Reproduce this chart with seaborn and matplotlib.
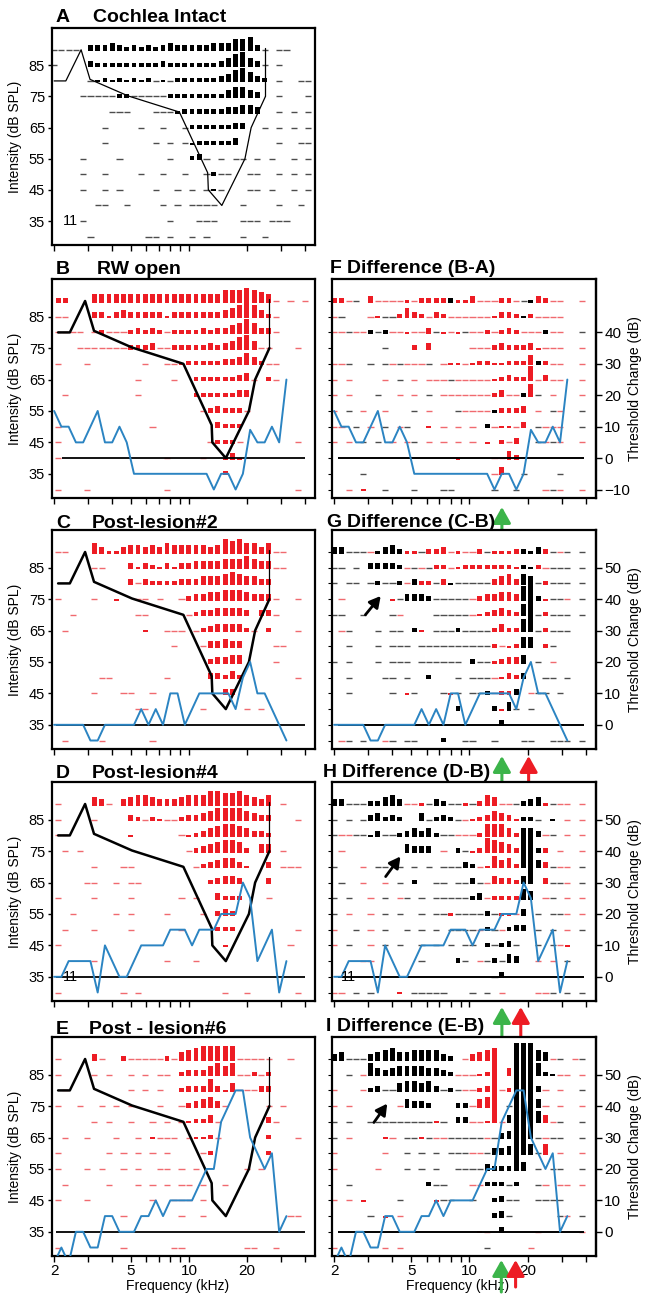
import numpy as np
import pandas as pd
import matplotlib
matplotlib.use("Agg")
import matplotlib.pyplot as plt
import seaborn as sns
from matplotlib.ticker import FixedLocator, FuncFormatter, NullLocator

sns.set_theme(style="white")
plt.rcParams["font.family"] = ["Liberation Sans", "DejaVu Sans"]
plt.rcParams["text.color"] = "black"
plt.rcParams["axes.labelcolor"] = "black"
plt.rcParams["xtick.color"] = "black"
plt.rcParams["ytick.color"] = "black"

# ---------------- data ----------------
LEVELS = [90, 85, 80, 75, 70, 65, 60, 55, 50, 45, 40, 35, 30]   # dB SPL rows
# raster codes per column (1/8-octave steps from 2 kHz):
# digits = black bar height, a-i = red bar height, '-' black zero, '_' red zero
RASTER_A = [
    "---- 333432323234333334446673- --",
    "-    322222222232222222346743- - ",
    "     -12121212-1-2222223467532 -  --",
    "    -----22-----2222222245543  -   -",
    "        ---   ---122222233443  - - -",
    "       -    -  -  -22222233  - - - -",
    "       -      - - -1222223     -  --",
    "    -    -      -  23- - -- - -  - -",
    "    -  -    -  -  -  -2--  --  - - -",
    "    -  - -    -  - - -1-   -- -  - -",
    "      --  -    - - ----   -    -  -",
    "    -           -   ---   --- ---",
    "     -       -- -  - -    -  -",
]
RASTER_B = [
    "bb   ddddddddddddddddddfffgfed_ _ _",
    "__   ccacdcccccacccccccdefgfdb_",
    "____ _b___bcbcb_bbbbcbccdegecc_",
    "   _______bbbc__bbbbbcbcdfgd__   _",
    "_   _       _  __abbbbbccdfdb__",
    "           _    _  bbbbbbcd_ b_",
    " _         _       bbbbbbcc",
    "                    _bcbbb_",
    "_            _        cbbb",
    "_                    _bbb_       _",
    "_              _    _  aca",
    "                       b",
    "_   _          _                 _",
]
RASTER_C = [
    "__   ecaacddcdcedddddcdgfgeece__",
    "     __   cacbacaccddddeeefedd__",
    "          c_cbbbbcccdddefeddcc",
    "_    _  a  __ _  _bccddeeedccc_  _",
    "  _        __     _bccddddc cc_",
    " _          a  ___ _bcddddb_ b   _",
    "                _   _ccdcc    __",
    "                     bccdd    _",
    "      __       _     ccbdb       _",
    "     _   __  _         cc",
    "           __       _     _ _",
    "",
    " _    _      _",
]
RASTER_D = [
    "_    dc_ cdeedcccdeeeggffgedce _",
    "_    _    cb_ba__bccdeffffedcc   _",
    "__        a      _abcdeffedccb",
    " _ _              _bcdeffeb dd _",
    "     _   __        _bcdeeca  c ___",
    "    __  _ __         bcddc   c",
    "_    _    _      _ _  cbbb   _",
    "  _     _ _    _    _ bcb",
    " _   _    _      _    bbb        _",
    "_                      a        _",
    "     _         _   _",
    "",
    "_        _ _           _  _      _",
]
RASTER_E = [
    "_    c_  b_____b_defggggg_____  _",
    "_    _ _  _ _ __ bcccefef__b_b",
    " _        _ _ _  bcccfcad___cc",
    "_  _  _ _ _   _  _bcdec_     _ _",
    "     _ _  _  _ _ _abbd_      c_",
    " _  _   _  _ a___ _aab_      b   _",
    "_      _ _ _ _ _    _b       b",
    "_   _ _  _ _  __ _ _      _ _",
    " _     _   _ _ _ __ _  _",
    "_   _        _  ___ _",
    "         _       _  _           __",
    "",
    "_        _      __        __  _",
]
RASTER_F = [
    "bb_- c____a_bbbb2aac___bb_-1cb__  _",
    "_-   _a--becb_cb______accb1b____",
    "__-__2-2__a__c-a_a-__b_bcb___2__  -",
    "       -   b c     ___bcbbbca___  _",
    "__-  - -_-___- _aa_abbaabbbe2b__  _",
    "_ _    _ - _ ___-_____abcbbg_c__  _",
    "_ _   -  _ _ - _______bc__2f- _   _",
    "_ - _  _   - _   -____1bbbc _ -_  -",
    "__ - _ - _-  a _ _ _ 2_aa_c -___  -",
    "_ _ - - _ _- _ _ _ _ a b_c  -_-_  _",
    "                 a    __db",
    "    -                 _d  -    -",
    "  _ a  -   -   --     -  -   _-_  _",
]
RASTER_G = [
    "33---_1342aa-bbc_a__b-aaab213b-_- -",
    "-- - 33332_-_-bb_abbbbbbba21b_--- -",
    "- -- -2--2_3bb-c1-----cdec54-b--- -",
    " _      a-3332-----_bccddc792a--_ -",
    "--  -   -_    -----_abcdcb69-b--- -",
    " _-   - -- 2a ---2----bdbb69-b---",
    "  -   - --- ----------b_ab55 b-",
    "- -   - --- ------ 2--abcc4 - _",
    "  -    -- -  2   - ---_acb3  -- -",
    "  -     - a-   -a- --2_bb3 _-- -",
    "                 2    2a4- -",
    "                       3",
    " _- -  _- --   2  --  -   --  --- -",
]
RASTER_H = [
    "33---22453__a-32--a-bed__-234a-__ _",
    "- - -34232  4-232-_abcedca22- 1 _ _",
    "-__--13--234342--___bfffdb443_- _ _",
    " _        4333 _ 2-abgfedb992b _  _",
    "-   _ -- - - - ---32_afdeb994c-__ -",
    " -  _  _ - 2  -- --3-_dccb49 c--_ -",
    "- -  _ - _- - -----23_bbbb54 _- _ _",
    "- _  _ - -  - --a----2-aa_3 - --_ _",
    "_  - _ -  - - - ----_2-_233 - - _ -",
    "_ -  _ - -  - - - -- 2-23-  - -_a",
    "    __      -    2- _-2-43  _ _ -",
    "                      -3",
    "__ - -   a -----   - - _    __- - -",
]
RASTER_I = [
    "34---345644555532 _cdef  88854_- _-",
    "  - _643455554432___abi d888621__ _",
    "_   _23--455453-2-__bci_b8883_ _  -",
    "_ _      _4332   22_dei -8884_ _  _",
    "- -  ---------a- 33__ah_48886d_-  -",
    "- _    a_ --a-__-----_-34888-_--  -",
    "_      _  - - - ---__-334885-e _  _",
    "_     _   - - -  ----322284 - --  -",
    "  -          2--   __222-2  -_ __ _",
    "_ _ a    -    a--  -  23--  ----",
    "     - a _            23-      -_ -",
    "                    a_ 3    _     _",
    "_      _ _           -     _",
]
# threshold-change (blue) traces, in dB SPL, one value per column
BLUE_B = [55, 50, 50, 45, 45, 50, 55, 45, 45, 50, 45, 35, 35, 35, 35, 35, 35, 35, 35, 35,
          35, 35, 30, 35, 35, 30, 35, 49, 45, 45, 50, 45, 65]
BLUE_C = [35, 35, 35, 35, 35, 30, 30, 35, 35, 35, 35, 35, 40, 35, 40, 35, 45, 45, 35, 40,
          45, 45, 45, 45, 45, 40, 50, 55, 45, 45, 40, 35, 30]
BLUE_D = [35, 35, 40, 40, 40, 40, 30, 45, 40, 35, 35, 40, 45, 45, 45, 45, 50, 50, 50, 45,
          50, 50, 50, 55, 55, 55, 65, 60, 40, 45, 50, 30, 40]
BLUE_E = [25, 30, 25, 35, 35, 30, 30, 40, 40, 35, 35, 35, 40, 40, 45, 40, 45, 45, 45, 45,
          50, 55, 55, 70, 75, 80, 80, 65, 60, 55, 60, 35, 40]
# intact-cochlea tuning curve (black)
CURVE_FREQ = [2.0, 2.3, 2.76, 3.07, 4.83, 8.92, 12.5, 12.6, 14.8, 19.5, 21.0, 24.9, 24.9]
CURVE_LEVEL = [80, 80, 90, 80.5, 75.2, 70, 50.5, 45, 40, 55, 65, 75, 90.5]
XTICK_LABELED = [2, 5, 10, 20]
XTICKS = [2, 3, 4, 5, 6, 7, 8, 9, 10, 20, 30, 40]

RED = "#ed1c24"
BLACK = "#000000"
BLUE = "#2b84c2"
GREEN = "#3cb44a"
UNIT = 0.68
HALF_W = 0.0125

W, H = 647, 1303
fig = plt.figure(figsize=(W / 100, H / 100), dpi=100)
TOPS = [28, 279, 530, 782, 1037]
BOTS = [245, 498, 749, 1001, 1256]
LX = (52, 315)
RX = (332, 596)
TFS = 14


def add_ax(xr, row):
    t, b = TOPS[row], BOTS[row]
    return fig.add_axes([xr[0] / W, 1 - b / H, (xr[1] - xr[0]) / W, (b - t) / H])


def raster_frame(rows, shift):
    recs = []
    for lev, row in zip(LEVELS, rows):
        for k, ch in enumerate(row):
            if ch == " ":
                continue
            f = 2.0 * 2 ** ((k + shift) / 8)
            recs.append((f, lev, ch))
    return pd.DataFrame(recs, columns=["freq", "level", "code"])


def draw_raster(ax, rows, shift):
    df = raster_frame(rows, shift)
    dashes = df[df.code.isin(["-", "_"])]
    for code, col in (("-", "#4d4d4d"), ("_", "#f06a6f")):
        sub = dashes[dashes.code == code]
        ax.hlines(sub.level, sub.freq * 10 ** -0.016, sub.freq * 10 ** 0.016,
                  colors=col, lw=1.0, zorder=1)
    bars = df[~df.code.isin(["-", "_"])].copy()
    bars["h"] = [int(c) * UNIT if c.isdigit() else (ord(c) - 96) * UNIT for c in bars.code]
    bars["col"] = [BLACK if c.isdigit() else RED for c in bars.code]
    left = bars.freq * 10 ** -HALF_W
    right = bars.freq * 10 ** HALF_W
    ax.bar(left, bars.h, width=right - left, bottom=bars.level - 0.5, align="edge",
           color=bars.col, linewidth=0, zorder=2)


def draw_curve(ax, shift, thick):
    fac = 2 ** (shift / 8)
    cf = [f * fac for f in CURVE_FREQ]
    d = pd.DataFrame({"f": cf[:-1], "l": CURVE_LEVEL[:-1]})
    sns.lineplot(data=d, x="f", y="l", ax=ax, color=BLACK, lw=1.8 if thick else 0.9,
                 sort=False, estimator=None, zorder=3)
    d2 = pd.DataFrame({"f": cf[-2:], "l": CURVE_LEVEL[-2:]})
    sns.lineplot(data=d2, x="f", y="l", ax=ax, color=BLACK, lw=0.9,
                 sort=False, estimator=None, zorder=3)


def draw_blue(ax, vals):
    d = pd.DataFrame({"f": [2.0 * 2 ** (k / 8) for k in range(len(vals))], "l": vals})
    sns.lineplot(data=d, x="f", y="l", ax=ax, color=BLUE, lw=1.4, sort=False,
                 estimator=None, zorder=4)


def style(ax, bottom_labels, left_labels):
    ax.set_xscale("log")
    ax.set_xlim(1.95, 45)
    ax.set_ylim(27.3, 97)
    ax.xaxis.set_major_locator(FixedLocator(XTICKS))
    ax.xaxis.set_minor_locator(NullLocator())
    if bottom_labels:
        ax.xaxis.set_major_formatter(FuncFormatter(
            lambda v, p: f"{v:g}" if round(v) in XTICK_LABELED else ""))
    else:
        ax.xaxis.set_major_formatter(FuncFormatter(lambda v, p: ""))
    if left_labels:
        ax.yaxis.set_major_locator(FixedLocator([35, 45, 55, 65, 75, 85]))
        ax.tick_params(axis="y", labelsize=10.5, length=3, width=1, direction="out", left=True, pad=2)
    else:
        ax.yaxis.set_major_locator(FixedLocator(list(range(30, 95, 5))))
        ax.tick_params(axis="y", labelleft=False, length=3, width=0.8, direction="out", left=True)
    ax.tick_params(axis="x", labelsize=11, length=4, width=1, direction="out", bottom=True, pad=2)
    ax.set_xlabel("")
    ax.set_ylabel("")
    for s in ax.spines.values():
        s.set_color("black")
        s.set_linewidth(1.6)
    ax.set_facecolor("white")


# ---------------- left column ----------------
left_specs = [
    ("A", "Cochlea Intact", RASTER_A, 0.0, None, None, 93, 22),
    ("B", "RW open", RASTER_B, 0.55, BLUE_B, 40, 97, 274),
    ("C", "Post-lesion#2", RASTER_C, 0.55, BLUE_C, 35, 92, 528),
    ("D", "Post-lesion#4", RASTER_D, 0.55, BLUE_D, 35, 92, 778),
    ("E", "Post - lesion#6", RASTER_E, 0.55, BLUE_E, 35, 89, 1034),
]
for row, (letter, title, rast, shift, blue, base, tx, ty) in enumerate(left_specs):
    ax = add_ax(LX, row)
    ax.set_xscale("log")
    draw_raster(ax, rast, shift)
    draw_curve(ax, shift, thick=(row > 0))
    if blue is not None:
        draw_blue(ax, blue)
    if base is not None:
        x0 = 2.2 if row == 1 else 2.05
        ax.hlines(base, x0, 40, color="black", lw=1.3, zorder=3.5)
    style(ax, bottom_labels=(row == 4), left_labels=True)
    ax.set_ylabel("Intensity (dB SPL)", fontsize=10)
    ax.yaxis.set_label_coords(-0.115, 0.5)
    fig.text(56 / W, 1 - ty / H, letter, fontsize=TFS, fontweight="bold", va="baseline")
    fig.text(tx / W, 1 - ty / H, title, fontsize=TFS, fontweight="bold", va="baseline")
    if row == 4:
        ax.set_xlabel("Frequency (kHz)", fontsize=10)
        ax.xaxis.set_label_coords(0.477, -0.105)
    if row in (0, 3):
        ax.text(2.42, 35, "11", fontsize=10.5, ha="center", va="center", zorder=5)

# ---------------- right column ----------------
right_specs = [
    ("F", "Difference (B-A)", RASTER_F, BLUE_B, 40, [-10, 0, 10, 20, 30, 40], 330, 347, 273),
    ("G", "Difference (C-B)", RASTER_G, BLUE_C, 35, [0, 10, 20, 30, 40, 50], 326, 347, 527),
    ("H", "Difference (D-B)", RASTER_H, BLUE_D, 35, [0, 10, 20, 30, 40, 50], 323, 342, 777),
    ("I", "Difference (E-B)", RASTER_I, BLUE_E, 35, [0, 10, 20, 30, 40, 50], 326, 337, 1031),
]
ARROWS = {  # (freq, head px, tail px, color)
    0: [(14.7, 507, 531, GREEN)],
    1: [(14.7, 756, 786, GREEN), (20.2, 756, 786, RED)],
    2: [(14.7, 1007, 1036, GREEN), (18.4, 1007, 1036, RED)],
    3: [(14.6, 1260, 1292, GREEN), (17.3, 1260, 1287, RED)],
}
BLACK_ARROWS = {1: ((2.9, 70), (3.48, 76)), 2: ((3.69, 66.9), (4.4, 73.3)),
                3: ((3.21, 69.8), (3.76, 75.8))}
for i, (letter, title, rast, blue, base, rticks, lx, tx, ty) in enumerate(right_specs):
    row = i + 1
    ax = add_ax(RX, row)
    ax.set_xscale("log")
    draw_raster(ax, rast, 0.0)
    draw_blue(ax, blue)
    ax.hlines(base, 2.1, 39, color="black", lw=1.4, zorder=3.5)
    style(ax, bottom_labels=(row == 4), left_labels=False)
    sec = ax.secondary_yaxis("right", functions=(lambda y, b=base: y - b,
                                                 lambda y, b=base: y + b))
    sec.set_yticks(rticks)
    sec.tick_params(labelsize=11, length=4, width=1, direction="out", pad=2)
    for s in sec.spines.values():
        s.set_linewidth(1.6)
    yc = 1 - (TOPS[row] + BOTS[row]) / 2 / H
    fig.text(635 / W, yc, "Threshold Change (dB)", rotation=90, fontsize=10,
             ha="center", va="center")
    fig.text(lx / W, 1 - ty / H, letter, fontsize=TFS, fontweight="bold", va="baseline")
    fig.text(tx / W, 1 - ty / H, title, fontsize=TFS, fontweight="bold", va="baseline")
    if row == 4:
        ax.set_xlabel("Frequency (kHz)", fontsize=10)
        ax.xaxis.set_label_coords(0.475, -0.105)
    if row == 3:
        ax.text(2.36, 35, "11", fontsize=10.5, ha="center", va="center", zorder=5)
    hgt = BOTS[row] - TOPS[row]
    for f, yh, yt, col in ARROWS[i]:
        ax.annotate("", xy=(f, (BOTS[row] - yh) / hgt), xytext=(f, (BOTS[row] - yt) / hgt),
                    xycoords=ax.get_xaxis_transform(), textcoords=ax.get_xaxis_transform(),
                    arrowprops=dict(arrowstyle="-|>,head_length=0.8,head_width=0.45",
                                    color=col, lw=2.2, shrinkA=0, shrinkB=0),
                    annotation_clip=False, zorder=6)
    if i in BLACK_ARROWS:
        (x0, y0), (x1, y1) = BLACK_ARROWS[i]
        ax.annotate("", xy=(x1, y1), xytext=(x0, y0),
                    arrowprops=dict(arrowstyle="-|>,head_length=0.55,head_width=0.3",
                                    color="black", lw=2, shrinkA=0, shrinkB=0), zorder=6)

fig.savefig("out.png", dpi=100, facecolor="white")
